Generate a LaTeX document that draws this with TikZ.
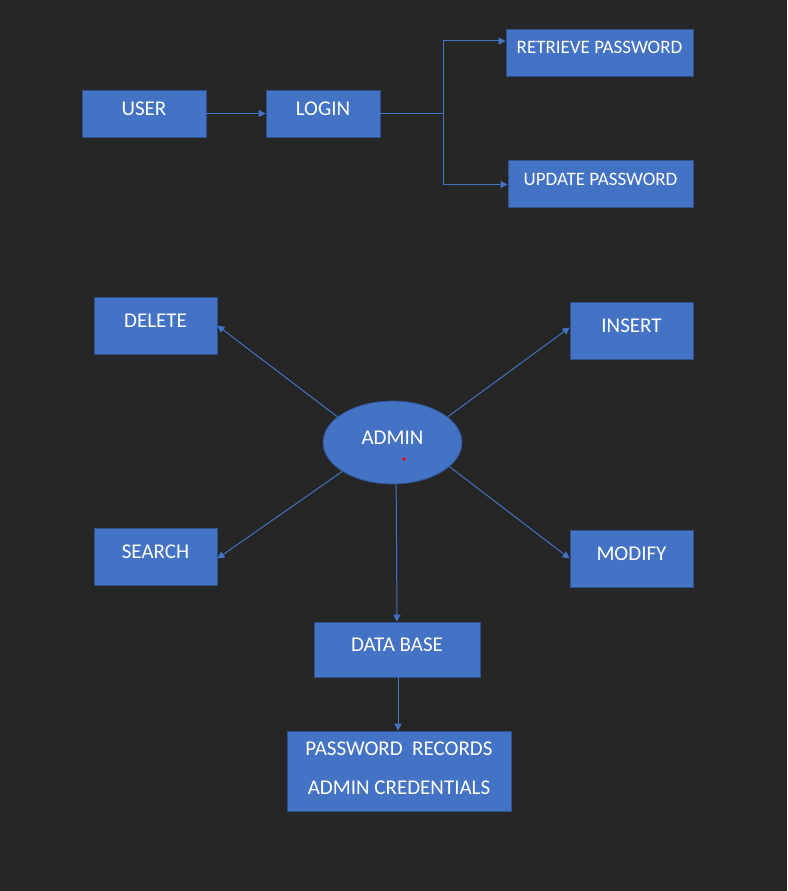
\documentclass[tikz,border=0pt]{standalone}
\usepackage{fontspec}
\setmainfont{Carlito}
\usepackage{tikz}
\usetikzlibrary{arrows.meta,shapes.geometric}
\usepackage{xcolor}
\definecolor{bgdark}{HTML}{262626}
\definecolor{boxblue}{HTML}{4472C4}
\definecolor{boxedge}{HTML}{2F528F}

\begin{document}
\begin{tikzpicture}[x=1pt,y=-1pt,>={Triangle[length=7pt,width=7pt]},
  font=\fontsize{21}{25}\selectfont,
  blk/.style={draw=boxedge,line width=0.8pt,fill=boxblue,text=white,inner sep=0pt,text height=14pt,text depth=11pt},
  small/.style={font=\fontsize{19}{23}\selectfont},
  conn/.style={->,draw=boxblue,line width=1pt}]
\fill[bgdark] (0,0) rectangle (787,891);
\useasboundingbox (0,0) rectangle (787,891);
\node[blk,minimum width=124pt,minimum height=47pt] (user) at (144,113.5) {USER};
\node[blk,minimum width=114pt,minimum height=47pt] (login) at (323,113.5) {LOGIN};
\node[blk,small,minimum width=187pt,minimum height=47pt] (retrieve) at (599.5,52.5) {RETRIEVE PASSWORD};
\node[blk,small,minimum width=185pt,minimum height=47pt] (update) at (600.5,183.5) {UPDATE PASSWORD};
\coordinate (split) at (443,113.5);
\draw[conn] (user.east) -- (login.west);
\draw[conn] (login.east) -- (split) |- ([yshift=11.5pt]retrieve.west);
\draw[conn] (split) |- ([yshift=-1pt]update.west);
\node[blk,ellipse,minimum width=139pt,minimum height=83pt] (admin) at (392.5,442.5) {ADMIN};
\fill[red] (404,459) circle (1.8pt);
\node[blk,minimum width=123pt,minimum height=57pt] (delete) at (155.5,325.5) {DELETE};
\node[blk,minimum width=123pt,minimum height=57pt] (insert) at (631.5,330.5) {INSERT};
\node[blk,minimum width=123pt,minimum height=57pt] (search) at (155.5,556.5) {SEARCH};
\node[blk,minimum width=123pt,minimum height=57pt] (modify) at (631.5,558.5) {MODIFY};
\node[blk,minimum width=166pt,minimum height=55pt] (db) at (397,649.5) {DATA BASE};
\node[draw=boxedge,line width=0.8pt,fill=boxblue,text=white,inner sep=0pt,align=center,
  minimum width=224pt,minimum height=80pt,font=\fontsize{21}{39}\selectfont] (records) at (399,771)
  {PASSWORD~~RECORDS\\ADMIN CREDENTIALS\rule[-5pt]{0pt}{5pt}};
\draw[conn] (admin.155) -- (delete.east);
\draw[conn] (admin.25) -- ([yshift=3pt]insert.west);
\draw[conn] (admin.210) -- ([yshift=-2pt]search.east);
\draw[conn] (admin.337) -- (modify.west);
\draw[conn] (admin.275) -- (db.north);
\draw[conn] ([xshift=1pt]db.south) -- ([xshift=1pt]db.south |- records.north);
\end{tikzpicture}
\end{document}
